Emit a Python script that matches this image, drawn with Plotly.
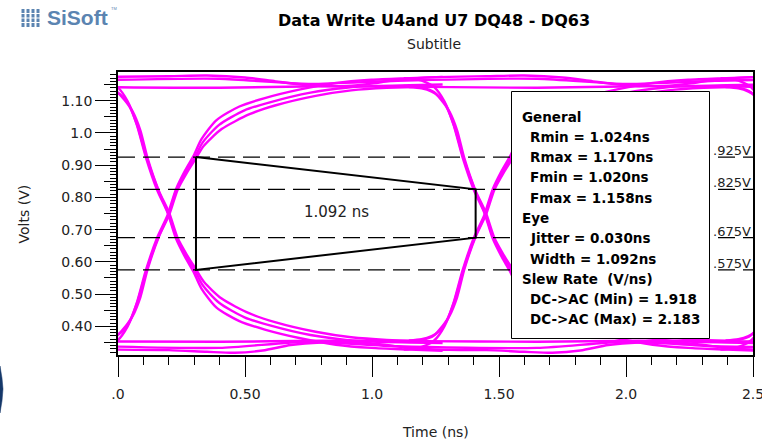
import plotly.graph_objects as go

# ---------------- data ----------------
X_RANGE = [0.0, 2.5]
Y_RANGE = [0.311, 1.189]

X_TICKS = [0.0, 0.5, 1.0, 1.5, 2.0, 2.5]
X_TICK_TEXT = [".0", "0.50", "1.0", "1.50", "2.0", "2.5"]
Y_TICKS = [0.4, 0.5, 0.6, 0.7, 0.8, 0.9, 1.0, 1.1]
Y_TICK_TEXT = ["0.40", "0.50", "0.60", "0.70", "0.80", "0.90", "1.0", "1.10"]
Y_MID_TICKS = [0.35, 0.45, 0.55, 0.65, 0.75, 0.85, 0.95, 1.05, 1.15]

# eye crossing instants (ns)
CROSSING_T = [0.198, 1.445, 2.692]

# edge shapes, time relative to the crossing (ns) and volts
RISE_A_DT = [-0.32, -0.26, -0.22, -0.20, -0.15, -0.12, -0.085, -0.04, 0.0, 0.033, 0.07, 0.105, 0.135, 0.20, 0.30, 0.40, 0.56, 0.70, 0.82, 0.95, 1.08]
RISE_A_V = [0.352, 0.356, 0.364, 0.372, 0.420, 0.480, 0.575, 0.675, 0.745, 0.825, 0.880, 0.925, 0.970, 1.025, 1.070, 1.095, 1.125, 1.140, 1.146, 1.148, 1.150]
FALL_A_V = [1.146, 1.142, 1.134, 1.126, 1.078, 1.018, 0.923, 0.823, 0.750, 0.673, 0.618, 0.573, 0.528, 0.473, 0.428, 0.403, 0.373, 0.358, 0.352, 0.350, 0.348]

RISE_B_DT = [-0.32, -0.27, -0.23, -0.20, -0.16, -0.125, -0.089, -0.044, -0.003, 0.03, 0.066, 0.10, 0.13, 0.19, 0.28, 0.38, 0.52, 0.66, 0.80, 0.95, 1.08]
RISE_B_V = [0.328, 0.332, 0.342, 0.356, 0.400, 0.470, 0.572, 0.675, 0.745, 0.825, 0.883, 0.930, 0.980, 1.040, 1.082, 1.108, 1.135, 1.155, 1.165, 1.170, 1.174]
FALL_B_V = [1.170, 1.166, 1.156, 1.142, 1.098, 1.028, 0.926, 0.823, 0.753, 0.673, 0.615, 0.568, 0.518, 0.458, 0.416, 0.390, 0.363, 0.343, 0.333, 0.328, 0.324]

RISE_C_DT = [-0.30, -0.25, -0.21, -0.18, -0.14, -0.11, -0.081, -0.037, 0.003, 0.037, 0.073, 0.108, 0.14, 0.21, 0.32, 0.42, 0.58, 0.72, 0.86, 1.0]
RISE_C_V = [0.356, 0.360, 0.370, 0.385, 0.432, 0.490, 0.578, 0.678, 0.745, 0.824, 0.876, 0.920, 0.960, 1.012, 1.058, 1.085, 1.115, 1.132, 1.140, 1.143]
FALL_C_V = [1.142, 1.138, 1.128, 1.113, 1.066, 1.008, 0.920, 0.820, 0.753, 0.674, 0.622, 0.578, 0.538, 0.486, 0.440, 0.413, 0.383, 0.366, 0.358, 0.355]

# steady-state rails (absolute time ns, volts)
HR_A_T = [-0.05, 0.2, 0.35, 0.5, 0.62, 0.75, 0.9, 1.0, 1.1, 1.25, 1.45, 1.6, 1.75, 1.87, 2.0, 2.15, 2.25, 2.35, 2.5, 2.55]
HR_A_V = [1.174, 1.176, 1.178, 1.172, 1.160, 1.148, 1.146, 1.153, 1.165, 1.173, 1.176, 1.178, 1.172, 1.160, 1.148, 1.146, 1.153, 1.165, 1.173, 1.174]
HR_B_T = [-0.05, 0.4, 0.8, 1.2, 1.65, 2.05, 2.55]
HR_B_V = [1.142, 1.140, 1.145, 1.143, 1.140, 1.145, 1.143]
HR_C_T = [-0.05, 0.4, 0.75, 1.1, 1.65, 2.0, 2.35, 2.55]
HR_C_V = [1.164, 1.168, 1.152, 1.162, 1.168, 1.152, 1.162, 1.165]

LR_A_T = [-0.05, 0.4, 0.8, 1.2, 1.65, 2.05, 2.55]
LR_A_V = [0.353, 0.352, 0.355, 0.354, 0.352, 0.355, 0.353]
LR_B_T = [-0.05, 0.2, 0.35, 0.46, 0.57, 0.68, 0.8, 0.95, 1.05, 1.15, 1.3, 1.45, 1.6, 1.71, 1.82, 1.93, 2.05, 2.2, 2.3, 2.4, 2.55]
LR_B_V = [0.328, 0.326, 0.321, 0.318, 0.325, 0.342, 0.350, 0.350, 0.343, 0.332, 0.327, 0.326, 0.321, 0.318, 0.325, 0.342, 0.350, 0.350, 0.343, 0.332, 0.327]
LR_C_T = [-0.05, 0.4, 0.75, 1.1, 1.65, 2.0, 2.35, 2.55]
LR_C_V = [0.338, 0.333, 0.352, 0.338, 0.333, 0.352, 0.338, 0.336]

# AC / DC threshold levels
LEVELS = [0.925, 0.825, 0.675, 0.575]
LEVEL_LABELS = [".925V", ".825V", ".675V", ".575V"]

# eye-opening trapezoid
EYE_T = [0.307, 1.408, 1.408, 0.307, 0.307]
EYE_V = [0.925, 0.825, 0.675, 0.575, 0.925]
EYE_LABEL = "1.092 ns"
EYE_LABEL_T = 0.861
EYE_LABEL_V = 0.756

LEGEND_TEXT = ["General", "Rmin = 1.024ns", "Rmax = 1.170ns", "Fmin = 1.020ns",
               "Fmax = 1.158ns", "Eye", "Jitter = 0.030ns", "Width = 1.092ns",
               "Slew Rate  (V/ns)", "DC->AC (Min) = 1.918", "DC->AC (Max) = 2.183"]
LEGEND_INDENT = [0, 1, 1, 1, 1, 0, 1, 1, 0, 1, 1]

TITLE = "Data Write U4and U7 DQ48 - DQ63"
SUBTITLE = "Subtitle"

# ---------------- layout helpers ----------------
W, H = 762, 442
ML, MR, MT, MB = 118, 9, 72, 87
PW, PH = W - ML - MR, H - MT - MB


def pxx(px):
    return (px - ML) / PW


def pxy(py):
    return (H - MB - py) / PH


MAG = "#FF00FF"
fig = go.Figure()


def add_line(x, y, **kw):
    fig.add_trace(go.Scatter(x=x, y=y, mode="lines", hoverinfo="skip",
                             showlegend=False, **kw))


mag_line = dict(color=MAG, width=2.4, shape="spline", smoothing=0.7)

for t, v in [(HR_A_T, HR_A_V), (HR_B_T, HR_B_V), (HR_C_T, HR_C_V),
             (LR_A_T, LR_A_V), (LR_B_T, LR_B_V), (LR_C_T, LR_C_V)]:
    add_line(t, v, line=mag_line)

for c in CROSSING_T:
    for dt, vr, vf in [(RISE_A_DT, RISE_A_V, FALL_A_V),
                       (RISE_B_DT, RISE_B_V, FALL_B_V),
                       (RISE_C_DT, RISE_C_V, FALL_C_V)]:
        tt = [c + d for d in dt]
        add_line(tt, vr, line=mag_line)
        add_line(tt, vf, line=mag_line)

for lv in LEVELS:
    add_line([X_RANGE[0], X_RANGE[1]], [lv, lv],
             line=dict(color="black", width=1.2, dash="17px,8px"))

add_line(EYE_T, EYE_V, line=dict(color="black", width=2))

# ---------------- axes ----------------
fig.update_layout(
    width=W, height=H,
    margin=dict(l=ML, r=MR, t=MT, b=MB, autoexpand=False),
    paper_bgcolor="white", plot_bgcolor="white",
    font=dict(family="DejaVu Sans", size=14, color="#222"),
    xaxis=dict(range=X_RANGE, tickvals=X_TICKS, ticktext=X_TICK_TEXT,
               ticks="outside", ticklen=20, tickwidth=1, tickcolor="black",
               showline=True, linecolor="black", linewidth=1.5, mirror=True,
               showgrid=False, zeroline=False, ticklabelstandoff=5,
               ticklabeloverflow="allow",
               tickfont=dict(family="DejaVu Sans", size=14, color="#222"),
               minor=dict(dtick=0.1, tick0=0, ticks="outside", ticklen=8,
                          tickwidth=1, tickcolor="black", showgrid=False),
               fixedrange=True),
    yaxis=dict(range=Y_RANGE, tickvals=Y_TICKS, ticktext=Y_TICK_TEXT,
               ticks="outside", ticklen=21, tickwidth=1, tickcolor="black",
               showline=True, linecolor="black", linewidth=1.5, mirror=True,
               showgrid=False, zeroline=False,
               tickfont=dict(family="DejaVu Sans", size=14, color="#222"),
               minor=dict(dtick=0.01, tick0=0, ticks="outside", ticklen=6,
                          tickwidth=1, tickcolor="black", showgrid=False),
               fixedrange=True),
    yaxis2=dict(range=Y_RANGE, overlaying="y", side="left", anchor="x",
                tickvals=Y_MID_TICKS, ticks="outside", ticklen=13, tickwidth=1,
                tickcolor="black", showticklabels=False, showgrid=False,
                zeroline=False, showline=False, fixedrange=True),
)
# invisible trace to activate yaxis2
fig.add_trace(go.Scatter(x=[X_RANGE[0]], y=[Y_RANGE[0]], yaxis="y2", mode="markers",
                         marker=dict(opacity=0), hoverinfo="skip", showlegend=False))

shapes = []
# statistics box
shapes.append(dict(type="rect", xref="paper", yref="paper",
                   x0=pxx(511.5), x1=pxx(709.5), y0=pxy(338.5), y1=pxy(91.5),
                   fillcolor="white", line=dict(color="black", width=1), layer="above"))
# logo icon
LOGO = "#5b84b1"
for bx in [23, 28, 33, 38]:
    shapes.append(dict(type="line", xref="paper", yref="paper",
                       x0=pxx(bx), x1=pxx(bx), y0=pxy(9), y1=pxy(27),
                       line=dict(color=LOGO, width=3)))
for by in [13.5, 18, 22.5]:
    shapes.append(dict(type="line", xref="paper", yref="paper",
                       x0=pxx(20), x1=pxx(42), y0=pxy(by), y1=pxy(by),
                       line=dict(color="white", width=1)))
# navy sliver at the left edge
sliver = [(0, 366), (2, 378), (3, 389), (2, 401), (0, 413)]
path = "M " + " L ".join(f"{pxx(a)},{pxy(b)}" for a, b in sliver) + " Z"
shapes.append(dict(type="path", xref="paper", yref="paper", path=path,
                   fillcolor="#16386a", line=dict(color="#16386a", width=0.5)))
fig.update_layout(shapes=shapes)

ann = []
ann.append(dict(text=f"<b>{TITLE}</b>", xref="paper", yref="paper", x=pxx(433.5), y=pxy(20.5),
                xanchor="center", yanchor="middle", showarrow=False,
                font=dict(family="DejaVu Sans", size=16, color="black")))
ann.append(dict(text=SUBTITLE, xref="paper", yref="paper", x=pxx(434), y=pxy(44),
                xanchor="center", yanchor="middle", showarrow=False,
                font=dict(family="DejaVu Sans", size=14, color="#222")))
ann.append(dict(text="Time (ns)", xref="paper", yref="paper", x=0.5, y=pxy(432),
                xanchor="center", yanchor="middle", showarrow=False,
                font=dict(family="DejaVu Sans", size=14, color="#222")))
ann.append(dict(text="Volts (V)", xref="paper", yref="paper", x=pxx(23), y=0.5,
                xanchor="center", yanchor="middle", showarrow=False, textangle=-90,
                font=dict(family="DejaVu Sans", size=14, color="#222")))
ann.append(dict(text=EYE_LABEL, xref="x", yref="y", x=EYE_LABEL_T, y=EYE_LABEL_V,
                xanchor="center", yanchor="middle", showarrow=False,
                font=dict(family="DejaVu Sans", size=15, color="#222")))
for lv, lab in zip(LEVELS, LEVEL_LABELS):
    ann.append(dict(text=lab, xref="paper", yref="y", x=1.0, y=lv,
                    xanchor="right", yanchor="bottom", showarrow=False, yshift=-3,
                    font=dict(family="DejaVu Sans", size=13, color="#222")))
for i, (txt, ind) in enumerate(zip(LEGEND_TEXT, LEGEND_INDENT)):
    py = 116.7 + i * 20.26
    px = 530 if ind else 521.7
    ann.append(dict(text=f"<b>{txt}</b>", xref="paper", yref="paper", x=pxx(px - 2), y=pxy(py),
                    xanchor="left", yanchor="middle", showarrow=False,
                    font=dict(family="DejaVu Sans", size=13.5, color="black")))
# logo text
ann.append(dict(text="<b>SiSoft</b>", xref="paper", yref="paper", x=pxx(45), y=pxy(18),
                xanchor="left", yanchor="middle", showarrow=False,
                font=dict(family="Liberation Sans", size=21, color=LOGO)))
ann.append(dict(text="TM", xref="paper", yref="paper", x=pxx(109), y=pxy(9),
                xanchor="left", yanchor="middle", showarrow=False,
                font=dict(family="Liberation Sans", size=4, color=LOGO)))
fig.update_layout(annotations=ann)

fig.write_html("out.html")
